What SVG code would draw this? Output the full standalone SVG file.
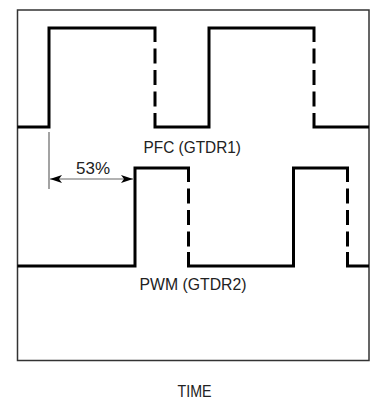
<svg xmlns="http://www.w3.org/2000/svg" width="375" height="400" viewBox="0 0 375 400">
<style>
.frame{fill:none;stroke:#333;stroke-width:1.5}
.wave{fill:none;stroke:#000;stroke-width:3;stroke-linejoin:miter}
.dash{fill:none;stroke:#000;stroke-width:3;stroke-dasharray:15 6.5;stroke-dashoffset:15}
.dim{fill:none;stroke:#666;stroke-width:1.2}
.lbl{font-family:"Liberation Sans",Arial,sans-serif;font-size:17px;fill:#222}
</style>
<defs>
<marker id="ah" viewBox="0 0 12 8" refX="12" refY="4" markerWidth="12" markerHeight="8" markerUnits="userSpaceOnUse" orient="auto-start-reverse">
<path d="M0,0 L12,4 L0,8 L3,4 Z" fill="#000"/>
</marker>
</defs>
<rect id="frame" class="frame" x="17.5" y="10" width="351.5" height="350.5"/>
<g id="pfc">
<path class="wave" d="M17.5,127 H49 V28 H155 V42"/>
<path class="dash" d="M155,42 V113"/>
<path class="wave" d="M155,113 V127 H209 V28 H314 V42"/>
<path class="dash" d="M314,42 V113"/>
<path class="wave" d="M314,113 V127 H369"/>
<text class="lbl" x="143.5" y="153" textLength="97.5" lengthAdjust="spacingAndGlyphs">PFC (GTDR1)</text>
</g>
<g id="pwm">
<path class="wave" d="M17.5,266 H135 V168 H188.5 V182"/>
<path class="dash" d="M188.5,182 V252"/>
<path class="wave" d="M188.5,252 V266 H293.5 V168 H347.5 V182"/>
<path class="dash" d="M347.5,182 V252"/>
<path class="wave" d="M347.5,252 V266 H369"/>
<text class="lbl" x="139.5" y="290" textLength="107" lengthAdjust="spacingAndGlyphs">PWM (GTDR2)</text>
</g>
<g id="connectors">
<line class="dim" x1="49" y1="132" x2="49" y2="189"/>
<line class="dim" x1="50" y1="179" x2="133" y2="179" marker-start="url(#ah)" marker-end="url(#ah)"/>
</g>
<text id="duty" class="lbl" x="76" y="174" textLength="34" lengthAdjust="spacingAndGlyphs">53%</text>
<text id="time" class="lbl" x="177.5" y="397" textLength="34" lengthAdjust="spacingAndGlyphs">TIME</text>
</svg>
